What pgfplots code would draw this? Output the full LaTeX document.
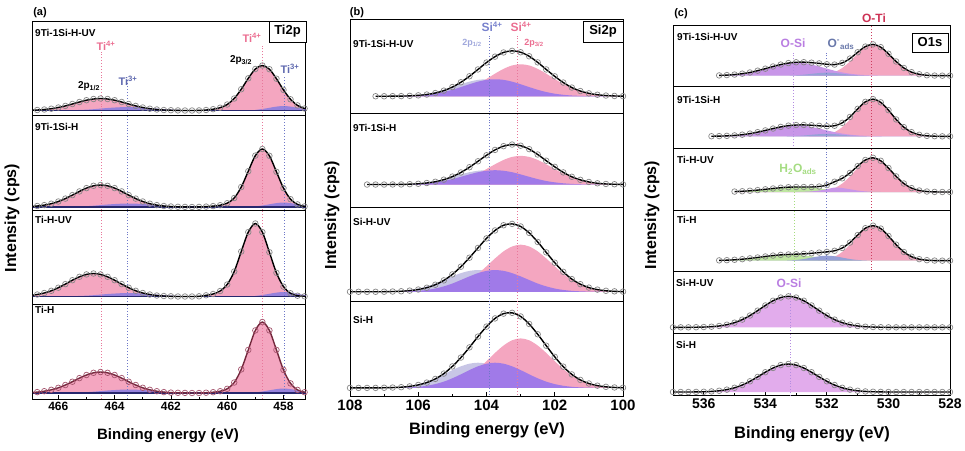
\documentclass[border=0pt]{standalone}
\usepackage{fontspec}
\setmainfont{Liberation Sans}
\usepackage{pgfplots}
\pgfplotsset{compat=1.18}
\usepackage{pgfplotstable}

\definecolor{pinkF}{RGB}{244,166,192}
\definecolor{purF}{RGB}{160,122,232}
\definecolor{lightF}{RGB}{200,198,230}
\definecolor{tiiiF}{RGB}{150,130,220}
\definecolor{navyc}{RGB}{40,40,110}
\definecolor{mk}{RGB}{135,135,135}
\definecolor{mkred}{RGB}{165,85,110}
\definecolor{fitred}{RGB}{115,40,60}
\definecolor{siF}{RGB}{200,150,232}
\definecolor{si2F}{RGB}{226,172,236}
\definecolor{adF}{RGB}{150,160,215}
\definecolor{grF}{RGB}{190,230,160}
\definecolor{vpink}{RGB}{232,120,155}
\definecolor{vblue}{RGB}{110,120,200}
\definecolor{vgreen}{RGB}{165,220,125}
\definecolor{vpur}{RGB}{180,140,225}
\definecolor{vred}{RGB}{205,60,95}
\definecolor{tpink}{RGB}{235,110,145}
\definecolor{tblue}{RGB}{95,105,175}
\definecolor{sblue}{RGB}{120,130,205}
\definecolor{tred}{RGB}{205,50,85}
\definecolor{tpur}{RGB}{185,125,225}
\definecolor{tads}{RGB}{105,120,170}
\definecolor{tgreen}{RGB}{165,220,130}

\newcommand{\F}[1]{\fontsize{#1}{#1}\selectfont\bfseries}
\newcommand{\dat}[2][mk]{\addplot[only marks, mark=o, mark size=2.8pt, color=#1, mark options={line width=0.7pt}] table[x=x,y=env]{#2};}
\newcommand{\fit}[2][black]{\addplot[color=#1, line width=1.4pt, smooth] table[x=x,y=env]{#2};}
\newcommand{\fillc}[3]{\addplot[draw=none, fill=#1, smooth] table[x=x,y=#2]{#3} \closedcycle;}
\newcommand{\vl}[4]{\addplot[color=#1, dotted, line width=0.9pt] coordinates {(#2,#3)(#2,#4)};}

% ---------------- panel (a) Ti2p ----------------
\pgfplotstableread{
x env
467 0.3
466.75 0.5
466.5 1.0
466.25 1.8
466 3.0
465.75 4.6
465.5 6.5
465.25 8.5
465 10.3
464.75 11.5
464.5 12
464.25 11.5
464 10.3
463.75 8.5
463.5 6.5
463.25 4.6
463 3.0
462.75 1.8
462.5 1.0
462.25 0.5
462 0.3
461.75 0.1
461.5 0
461.25 0
461 0.1
460.75 0.5
460.5 1.3
460.25 2.8
460 6.0
459.75 12.0
459.5 21.3
459.25 32.2
459 41.5
458.75 45
458.5 41.3
458.25 31.8
458 20.6
457.75 11.2
457.5 5.1
457.25 2.0
457 0.6
}\aone
\pgfplotstableread{
x env
467 0.5
466.75 1.0
466.5 1.9
466.25 3.3
466 5.5
465.75 8.4
465.5 11.9
465.25 15.6
465 18.9
464.75 21.2
464.5 22
464.25 21.2
464 18.9
463.75 15.6
463.5 11.9
463.25 8.4
463 5.5
462.75 3.3
462.5 1.9
462.25 1.0
462 0.5
461.75 0.2
461.5 0.1
461.25 0
461 0.1
460.75 0.4
460.5 0.9
460.25 1.8
460 3.8
459.75 9.0
459.5 20.0
459.25 35.8
459 51.4
458.75 58
458.5 51.2
458.25 35.2
458 18.9
457.75 7.8
457.5 2.6
457.25 0.6
457 0.1
}\atwo
\pgfplotstableread{
x env
467 1.0
466.75 2.0
466.5 3.5
466.25 5.7
466 8.8
465.75 12.4
465.5 16.3
465.25 19.7
465 22.1
464.75 23
464.5 22.1
464.25 19.7
464 16.3
463.75 12.4
463.5 8.8
463.25 5.7
463 3.5
462.75 2.0
462.5 1.0
462.25 0.5
462 0.2
461.75 0
461.5 0
461.25 0
461 0.2
460.75 1.2
460.5 2.5
460.25 5.5
460 12
459.75 25
459.5 45
459.25 64.4
459 73
458.75 64.4
458.5 44.3
458.25 23.7
458 9.9
457.75 3.2
457.5 0.8
457.25 0.2
457 0
}\athree
\pgfplotstableread{
x env
467 0.4
466.75 0.9
466.5 1.8
466.25 3.2
466 5.2
465.75 8.0
465.5 11.3
465.25 14.9
465 18.0
464.75 20.2
464.5 21
464.25 20.2
464 18.0
463.75 14.9
463.5 11.3
463.25 8.0
463 5.2
462.75 3.2
462.5 1.8
462.25 0.9
462 0.4
461.75 0.2
461.5 0.1
461.25 0
461 0
460.75 0.3
460.5 0.8
460.25 1.8
460 4.2
459.75 10.5
459.5 23.6
459.25 43.1
459 62.6
458.75 71
458.5 62.6
458.25 43.1
458 23.1
457.75 9.6
457.5 3.1
457.25 0.8
457 0.1
}\afour
\pgfplotstableread{
x t
465.75 0
465.5 0.3
465.25 0.55
465 0.85
464.75 1.3
464.5 1.9
464.25 2.5
464 2.95
463.75 3.35
463.5 3.5
463.25 3.35
463 2.95
462.75 2.5
462.5 1.9
462.25 1.3
462 0.85
461.75 0.55
461.5 0.3
461.25 0
459.25 0
459 0.6
458.75 1.5
458.5 2.7
458.25 3.9
458 4.5
457.75 3.9
457.5 2.7
457.25 1.5
457 0.6
}\tiii

% ---------------- panel (b) Si2p ----------------
\pgfplotstableread{
x env pu pk li
107.25 0 0 0 0
107 0 0 0 0.07
106.75 0.1 0.07 0 0.15
106.5 0.15 0.15 0 0.36
106.25 0.4 0.36 0.05 0.75
106 0.9 0.75 0.13 1.45
105.75 1.7 1.45 0.29 2.57
105.5 3.2 2.57 0.67 4.23
105.25 5.6 4.23 1.41 6.48
105 9.2 6.48 2.72 9.18
104.75 14.0 9.18 4.83 12.0
104.5 20.0 12.0 7.97 14.6
104.25 26.8 14.6 12.2 16.4
104 33.7 16.4 17.3 17
103.75 39.6 17 22.6 16.4
103.5 43.8 16.4 27.4 14.6
103.25 45.4 14.6 30.8 12.0
103 44.0 12.0 32 9.18
102.75 40.0 9.18 30.8 6.48
102.5 33.9 6.48 27.4 4.23
102.25 26.8 4.23 22.6 2.57
102 19.9 2.57 17.3 1.45
101.75 13.7 1.45 12.2 0.75
101.5 8.7 0.75 7.97 0.36
101.25 5.2 0.36 4.83 0.15
101 2.9 0.15 2.72 0.07
100.75 1.5 0.07 1.41 0
100.5 0.7 0 0.67 0
100.25 0.3 0 0.29 0
100 0.1 0 0.13 0
}\bone
\pgfplotstableread{
x env pu pk li
107.5 0 0 0 0
107.25 0 0 0 0
107 0 0 0 0.06
106.75 0.1 0.06 0 0.14
106.5 0.1 0.14 0 0.32
106.25 0.4 0.32 0.04 0.66
106 0.8 0.66 0.12 1.3
105.75 1.6 1.3 0.27 2.3
105.5 2.9 2.3 0.63 3.7
105.25 5.1 3.7 1.3 5.7
105 8.3 5.7 2.6 8.1
104.75 12.6 8.1 4.5 10.6
104.5 18.1 10.6 7.5 12.9
104.25 24.3 12.9 11.4 14.4
104 30.6 14.4 16.2 15
103.75 36.2 15 21.2 14.4
103.5 40.1 14.4 25.7 12.9
103.25 41.8 12.9 28.9 10.6
103 40.6 10.6 30 8.1
102.75 37.0 8.1 28.9 5.7
102.5 31.4 5.7 25.7 3.7
102.25 24.9 3.7 21.2 2.3
102 18.5 2.3 16.2 1.3
101.75 12.7 1.3 11.4 0.66
101.5 8.1 0.66 7.5 0.32
101.25 4.9 0.32 4.5 0.14
101 2.7 0.14 2.6 0.06
100.75 1.3 0.06 1.3 0
100.5 0.6 0 0.63 0
100.25 0.3 0 0.27 0
100 0.1 0 0.12 0
}\btwo
\pgfplotstableread{
x env pu pk li
108 0 0 0 0
107.75 0 0 0 0.03
107.5 0 0 0 0.05
107.25 0 0 0 0.1
107 0.1 0.03 0 0.22
106.75 0.3 0.1 0 0.5
106.5 0.6 0.22 0.03 1.06
106.25 1.3 0.5 0.08 2.0
106 2.5 1.06 0.21 3.6
105.75 4.5 2.0 0.47 6.0
105.5 7.8 3.6 1.09 9.1
105.25 12.6 6.0 2.29 13.0
105 19.2 9.1 4.42 17.0
104.75 27.7 13.0 7.85 20.6
104.5 37.6 17.0 12.9 23.1
104.25 48.4 20.6 19.8 24
104 58.9 23.1 28.1 23.1
103.75 67.7 24 36.8 20.6
103.5 73.4 23.1 44.6 17.0
103.25 74.9 20.6 50.0 13.0
103 72.1 17.0 52 9.1
102.75 65.0 13.0 50.0 6.0
102.5 55.0 9.1 44.6 3.6
102.25 43.5 6.0 36.8 2.0
102 32.1 3.6 28.1 1.06
101.75 22.0 2.0 19.8 0.5
101.5 14.0 1.06 12.9 0.22
101.25 8.4 0.5 7.85 0.1
101 4.6 0.22 4.42 0
100.75 2.4 0.1 2.29 0
100.5 1.1 0 1.09 0
100.25 0.5 0 0.47 0
100 0.2 0 0.21 0
}\bthree
\pgfplotstableread{
x env pu pk li
108 0 0 0 0
107.75 0 0 0 0.02
107.5 0 0 0 0.05
107.25 0 0 0 0.11
107 0.15 0.04 0 0.25
106.75 0.4 0.11 0 0.59
106.5 0.8 0.25 0.03 1.23
106.25 1.7 0.59 0.08 2.38
106 3.3 1.23 0.22 4.23
105.75 5.9 2.38 0.5 6.97
105.5 10.0 4.23 1.16 10.7
105.25 15.9 6.97 2.42 15.1
105 23.9 10.7 4.68 19.8
104.75 33.7 15.1 8.3 24.0
104.5 45.0 19.8 13.7 26.9
104.25 57.0 24.0 21.0 28
104 68.1 26.9 29.7 26.9
103.75 77.2 28 38.9 24.0
103.5 82.5 26.9 47.1 19.8
103.25 83.4 24.0 52.9 15.1
103 79.4 19.8 55 10.7
102.75 71.0 15.1 52.9 6.97
102.5 59.6 10.7 47.1 4.23
102.25 46.9 6.97 38.9 2.38
102 34.5 4.23 29.7 1.23
101.75 23.6 2.38 21.0 0.59
101.5 15.0 1.23 13.7 0.25
101.25 8.9 0.59 8.3 0.11
101 4.9 0.25 4.68 0
100.75 2.5 0.11 2.42 0
100.5 1.2 0 1.16 0
100.25 0.5 0 0.5 0
100 0.2 0 0.22 0
}\bfour

% ---------------- panel (c) O1s ----------------
\pgfplotstableread{
x env ti si ad
535.5 0.27 0 0.27 0
535.25 0.57 0 0.57 0
535 1.1 0 1.1 0
534.75 2.0 0 1.96 0
534.5 3.2 0 3.24 0
534.25 5.0 0 4.95 0
534 7.0 0 7.02 0
533.75 9.2 0 9.19 0
533.5 11.1 0 11.1 0.03
533.25 12.6 0 12.5 0.13
533 13.4 0 13 0.41
532.75 13.5 0 12.5 0.98
532.5 13.0 0.12 11.1 1.82
532.25 12.3 0.43 9.19 2.65
532 11.4 1.36 7.02 3
531.75 11.1 3.53 4.95 2.65
531.5 12.8 7.72 3.24 1.82
531.25 17.1 14.2 1.96 0.98
531 23.4 21.9 1.1 0.41
530.75 29.1 28.4 0.57 0.13
530.5 31.3 31 0.27 0.03
530.25 28.5 28.4 0.12 0
530 21.9 21.9 0.05 0
529.75 14.2 14.2 0 0
529.5 7.7 7.72 0 0
529.25 3.5 3.53 0 0
529 1.4 1.36 0 0
528.75 0.4 0.43 0 0
528.5 0.1 0.12 0 0
528.25 0 0 0 0
528 0 0 0 0
}\cone
\pgfplotstableread{
x env ti si ad
535.75 0.1 0 0.1 0
535.5 0.23 0 0.23 0
535.25 0.48 0 0.48 0
535 0.94 0 0.94 0
534.75 1.66 0 1.66 0
534.5 2.74 0 2.74 0
534.25 4.19 0 4.19 0
534 5.94 0 5.94 0
533.75 7.78 0 7.78 0
533.5 9.43 0 9.43 0.03
533.25 10.7 0 10.6 0.11
533 11.3 0 11 0.34
532.75 11.4 0 10.6 0.81
532.5 11.1 0.15 9.43 1.52
532.25 10.5 0.52 7.78 2.2
532 10.1 1.63 5.94 2.5
531.75 10.6 4.22 4.19 2.2
531.5 13.5 9.21 2.74 1.52
531.25 19.4 16.9 1.66 0.81
531 27.5 26.2 0.94 0.34
530.75 34.5 33.9 0.48 0.11
530.5 37.2 37 0.23 0
530.25 34.0 33.9 0.1 0
530 26.2 26.2 0 0
529.75 16.9 16.9 0 0
529.5 9.2 9.21 0 0
529.25 4.2 4.22 0 0
529 1.6 1.63 0 0
528.75 0.5 0.52 0 0
528.5 0.15 0.15 0 0
528.25 0 0 0 0
528 0 0 0 0
}\ctwo
\pgfplotstableread{
x env ti gr ad
535 0.43 0 0.43 0
534.75 0.76 0 0.76 0
534.5 1.25 0 1.25 0
534.25 1.9 0 1.9 0
534 2.7 0 2.7 0
533.75 3.54 0 3.54 0
533.5 4.29 0 4.29 0
533.25 4.81 0 4.81 0
533 5.0 0 5 0
532.75 5.0 0 4.81 0.2
532.5 5.0 0.14 4.29 0.61
532.25 5.5 0.48 3.54 1.46
532 6.9 1.5 2.7 2.73
531.75 10.3 3.88 1.9 4.5
531.5 13.7 8.47 1.25 3.97
531.25 19.1 15.6 0.76 2.73
531 25.9 24.0 0.43 1.46
530.75 32.0 31.2 0.22 0.61
530.5 34.2 34 0.1 0.2
530.25 31.2 31.2 0 0
530 24.0 24.0 0 0
529.75 15.6 15.6 0 0
529.5 8.5 8.47 0 0
529.25 3.9 3.88 0 0
529 1.5 1.5 0 0
528.75 0.5 0.48 0 0
528.5 0.1 0.14 0 0
528.25 0 0 0 0
528 0 0 0 0
}\cthree
\pgfplotstableread{
x env ti gr ad
535.5 0.3 0 0.26 0
535.25 0.5 0 0.51 0
535 0.9 0 0.91 0
534.75 1.5 0 1.49 0
534.5 2.3 0 2.29 0
534.25 3.2 0 3.24 0
534 4.2 0 4.24 0
533.75 5.1 0 5.14 0
533.5 5.8 0 5.77 0
533.25 6.2 0 6 0.22
533 6.5 0 5.77 0.68
532.75 6.8 0 5.14 1.63
532.5 7.4 0.14 4.24 3.04
532.25 8.1 0.49 3.24 4.41
532 8.8 1.54 2.29 5
531.75 9.9 3.99 1.49 4.41
531.5 12.7 8.72 0.91 3.04
531.25 18.1 16.0 0.51 1.63
531 25.6 24.7 0.26 0.68
530.75 32.5 32.1 0.13 0.22
530.5 35 35 0 0
530.25 32.1 32.1 0 0
530 24.7 24.7 0 0
529.75 16.0 16.0 0 0
529.5 8.7 8.72 0 0
529.25 4.0 3.99 0 0
529 1.5 1.54 0 0
528.75 0.5 0.49 0 0
528.5 0.1 0.14 0 0
528.25 0 0 0 0
528 0 0 0 0
}\cfour
\pgfplotstableread{
x env
537 0
536.75 0
536.5 0
536.25 0.12
536 0.29
535.75 0.65
535.5 1.36
535.25 2.64
535 4.68
534.75 7.72
534.5 11.8
534.25 16.7
534 21.9
533.75 26.6
533.5 29.8
533.25 31
533 29.8
532.75 26.6
532.5 21.9
532.25 16.7
532 11.8
531.75 7.72
531.5 4.68
531.25 2.64
531 1.36
530.75 0.65
530.5 0.29
530.25 0.12
530 0
529.75 0
529.5 0
529.25 0
529 0
528.75 0
528.5 0
528.25 0
528 0
}\cfive
\pgfplotstableread{
x env
537 0
536.75 0
536.5 0
536.25 0.11
536 0.25
535.75 0.59
535.5 1.23
535.25 2.38
535 4.23
534.75 6.97
534.5 10.7
534.25 15.1
534 19.8
533.75 24.0
533.5 26.9
533.25 28
533 26.9
532.75 24.0
532.5 19.8
532.25 15.1
532 10.7
531.75 6.97
531.5 4.23
531.25 2.38
531 1.23
530.75 0.59
530.5 0.25
530.25 0.11
530 0
529.75 0
529.5 0
529.25 0
529 0
528.75 0
528.5 0
528.25 0
528 0
}\csix

\pgfplotsset{
  sp/.style={scale only axis, x dir=reverse, anchor=north west, xtick=\empty, ytick=\empty,
    axis line style={line width=1pt}, clip=true},
  pa/.style={sp, width=273pt, height=94.5pt, xmin=457.2, xmax=466.9},
  pb/.style={sp, width=273pt, height=94.25pt, xmin=100, xmax=108},
  pc/.style={sp, width=277pt, height=61.667pt, xmin=528, xmax=537},
  bot/.style={xtick pos=left, tick align=inside, major tick length=4pt, minor tick length=2.5pt,
    minor x tick num=1, every tick/.append style={black, line width=0.8pt},
    /pgf/number format/assume math mode=true, /pgf/number format/1000 sep={}},
}

\begin{document}
\begin{tikzpicture}
\useasboundingbox (0pt,0pt) rectangle (965pt,-450pt);

% ===== (a) =====
\begin{axis}[pa, at={(33pt,-21pt)}, ymin=-5, ymax=89.5]
\fillc{pinkF}{env}{\aone}
\fillc{tiiiF}{t}{\tiii}
\vl{vpink}{464.45}{-20}{58.5}
\vl{vblue}{463.55}{-20}{30.5}
\vl{vpink}{458.75}{-20}{66.5}
\vl{vblue}{457.95}{-20}{34.5}
\addplot[navyc, line width=1.2pt] coordinates {(467.5,0)(456.5,0)};
\dat{\aone}
\fit{\aone}
\end{axis}
\begin{axis}[pa, at={(33pt,-115.5pt)}, ymin=-3, ymax=91.5]
\fillc{pinkF}{env}{\atwo}
\fillc{tiiiF}{t}{\tiii}
\vl{vpink}{464.45}{-20}{200}
\vl{vblue}{463.55}{-20}{200}
\vl{vpink}{458.75}{-20}{200}
\vl{vblue}{457.95}{-20}{200}
\addplot[navyc, line width=1.2pt] coordinates {(467.5,0)(456.5,0)};
\dat{\atwo}
\fit{\atwo}
\end{axis}
\begin{axis}[pa, at={(33pt,-210pt)}, ymin=-8, ymax=86.5]
\fillc{pinkF}{env}{\athree}
\fillc{tiiiF}{t}{\tiii}
\vl{vpink}{464.45}{-20}{200}
\vl{vblue}{463.55}{-20}{200}
\vl{vpink}{458.75}{-20}{200}
\vl{vblue}{457.95}{-20}{200}
\addplot[navyc, line width=1.2pt] coordinates {(467.5,0)(456.5,0)};
\dat{\athree}
\fit{\athree}
\end{axis}
\begin{axis}[pa, bot, at={(33pt,-304.5pt)}, ymin=-6, ymax=88.5,
  xtick={458,460,462,464,466}, xticklabel style={font=\F{12}}]
\fillc{pinkF}{env}{\afour}
\fillc{tiiiF}{t}{\tiii}
\vl{vpink}{464.45}{-20}{200}
\vl{vblue}{463.55}{-20}{200}
\vl{vpink}{458.75}{-20}{200}
\vl{vblue}{457.95}{-20}{200}
\addplot[navyc, line width=1.2pt] coordinates {(467.5,0)(456.5,0)};
\dat[mkred]{\afour}
\fit[fitred]{\afour}
\end{axis}

% ===== (b) =====
\begin{axis}[pb, at={(350pt,-19pt)}, ymin=-17, ymax=77.25]
\fillc{lightF}{li}{\bone}
\fillc{pinkF}{pk}{\bone}
\fillc{purF}{pu}{\bone}
\vl{vblue}{103.9}{-30}{60}
\vl{vpink}{103.1}{-30}{60}
\dat{\bone}
\fit{\bone}
\end{axis}
\begin{axis}[pb, at={(350pt,-113.25pt)}, ymin=-24, ymax=74.5]
\fillc{lightF}{li}{\btwo}
\fillc{pinkF}{pk}{\btwo}
\fillc{purF}{pu}{\btwo}
\vl{vblue}{103.9}{-30}{200}
\vl{vpink}{103.1}{-30}{200}
\dat{\btwo}
\fit{\btwo}
\end{axis}
\begin{axis}[pb, at={(350pt,-207.5pt)}, ymin=-11, ymax=93]
\fillc{lightF}{li}{\bthree}
\fillc{pinkF}{pk}{\bthree}
\fillc{purF}{pu}{\bthree}
\vl{vblue}{103.9}{-30}{200}
\vl{vpink}{103.1}{-30}{200}
\dat{\bthree}
\fit{\bthree}
\end{axis}
\begin{axis}[pb, bot, at={(350pt,-301.75pt)}, ymin=-9, ymax=95.7,
  xtick={100,102,104,106,108}, xticklabel style={font=\F{15}}]
\fillc{lightF}{li}{\bfour}
\fillc{pinkF}{pk}{\bfour}
\fillc{purF}{pu}{\bfour}
\vl{vblue}{103.9}{-30}{200}
\vl{vpink}{103.1}{-30}{200}
\dat{\bfour}
\fit{\bfour}
\end{axis}

% ===== (c) =====
\begin{axis}[pc, at={(673pt,-25pt)}, ymin=-11, ymax=50.67]
\fillc{pinkF}{ti}{\cone}
\fillc{siF}{si}{\cone}
\fillc{adF}{ad}{\cone}
\vl{vred}{530.55}{-30}{200}
\vl{vpur}{533.1}{-30}{23.7}
\vl{vblue}{532.0}{-30}{23.7}
\dat{\cone}
\fit{\cone}
\end{axis}
\begin{axis}[pc, at={(673pt,-86.667pt)}, ymin=-12, ymax=49.67]
\fillc{pinkF}{ti}{\ctwo}
\fillc{siF}{si}{\ctwo}
\fillc{adF}{ad}{\ctwo}
\vl{vred}{530.55}{-30}{200}
\vl{vpur}{533.1}{-30}{200}
\vl{vblue}{532.0}{-30}{200}
\dat{\ctwo}
\fit{\ctwo}
\end{axis}
\begin{axis}[pc, at={(673pt,-148.333pt)}, ymin=-18, ymax=43.67]
\fillc{pinkF}{ti}{\cthree}
\fillc{grF}{gr}{\cthree}
\fillc{siF}{ad}{\cthree}
\vl{vred}{530.55}{-30}{200}
\vl{vgreen}{533.05}{-30}{7}
\vl{vblue}{532.0}{-30}{200}
\dat{\cthree}
\fit{\cthree}
\end{axis}
\begin{axis}[pc, at={(673pt,-210pt)}, ymin=-11, ymax=50.67]
\fillc{pinkF}{ti}{\cfour}
\fillc{grF}{gr}{\cfour}
\fillc{adF}{ad}{\cfour}
\vl{vred}{530.55}{-30}{200}
\vl{vgreen}{533.05}{-30}{200}
\vl{vblue}{532.0}{-30}{200}
\dat{\cfour}
\fit{\cfour}
\end{axis}
\begin{axis}[pc, at={(673pt,-271.667pt)}, ymin=-6, ymax=55.67]
\fillc{si2F}{env}{\cfive}
\vl{vpur}{533.2}{-30}{35.3}
\dat{\cfive}
\fit{\cfive}
\end{axis}
\begin{axis}[pc, bot, at={(673pt,-333.333pt)}, ymin=-3, ymax=58.67,
  xtick={528,530,532,534,536}, xticklabel style={font=\F{14}}]
\fillc{si2F}{env}{\csix}
\vl{vpur}{533.2}{-30}{200}
\dat{\csix}
\fit{\csix}
\end{axis}

% ===== texts =====
\node[font=\F{11}] at (40pt,-13pt) {(a)};
\node[font=\F{11}] at (357pt,-13pt) {(b)};
\node[font=\F{11}] at (681pt,-14pt) {(c)};

\node[rotate=90,font=\F{16}] at (12pt,-218pt) {Intensity (cps)};
\node[rotate=90,font=\F{16}] at (332pt,-215pt) {Intensity (cps)};
\node[rotate=90,font=\F{16}] at (652pt,-215pt) {Intensity (cps)};

\node[font=\F{15}] at (168pt,-436pt) {Binding energy (eV)};
\node[font=\F{16.5}] at (487pt,-430pt) {Binding energy (eV)};
\node[font=\F{16.5}] at (812pt,-434pt) {Binding energy (eV)};

\begin{scope}[every node/.style={anchor=west, inner sep=0pt, font=\F{10}}]
\node at (35pt,-33pt) {9Ti-1Si-H-UV};
\node at (35pt,-127pt) {9Ti-1Si-H};
\node at (35pt,-220pt) {Ti-H-UV};
\node at (35pt,-310pt) {Ti-H};
\node at (353pt,-44pt) {9Ti-1Si-H-UV};
\node at (353pt,-128pt) {9Ti-1Si-H};
\node at (353pt,-222pt) {Si-H-UV};
\node at (353pt,-320pt) {Si-H};
\node at (677pt,-37pt) {9Ti-1Si-H-UV};
\node at (677pt,-100pt) {9Ti-1Si-H};
\node at (677pt,-160pt) {Ti-H-UV};
\node at (677pt,-220pt) {Ti-H};
\node at (676pt,-283pt) {Si-H-UV};
\node at (676pt,-345pt) {Si-H};
\end{scope}

% (a) annotations
\node[text=tpink, font=\F{11}] at (106pt,-46pt) {Ti\textsuperscript{4+}};
\node[text=tpink, font=\F{11}] at (252pt,-38pt) {Ti\textsuperscript{4+}};
\node[text=tblue, font=\F{11}] at (128pt,-81pt) {Ti\textsuperscript{3+}};
\node[text=tblue, font=\F{11}] at (290pt,-69pt) {Ti\textsuperscript{3+}};
\node[font=\F{10}] at (89pt,-86pt) {2p\textsubscript{1/2}};
\node[font=\F{10}] at (241pt,-60pt) {2p\textsubscript{3/2}};
\node[draw, line width=0.8pt, fill=white, minimum width=37pt, minimum height=21pt, inner sep=0pt, font=\F{13}] at (287.5pt,-31.5pt) {Ti2p};

% (b) annotations
\node[text=sblue, font=\F{12}] at (492pt,-27pt) {Si\textsuperscript{4+}};
\node[text=tpink, font=\F{12}] at (521pt,-27pt) {Si\textsuperscript{4+}};
\node[text=sblue!70, font=\F{9}] at (472pt,-43pt) {2p\textsubscript{1/2}};
\node[text=tpink, font=\F{9}] at (534pt,-43pt) {2p\textsubscript{3/2}};
\node[draw, line width=0.8pt, fill=white, minimum width=40pt, minimum height=21pt, inner sep=0pt, font=\F{13}] at (603pt,-31.5pt) {Si2p};

% (c) annotations
\node[text=tred, font=\F{12}] at (874pt,-18pt) {O-Ti};
\node[text=tpur, font=\F{12}] at (793pt,-43pt) {O-Si};
\node[text=tads, font=\F{12}, inner sep=1pt] at (841pt,-44pt) {O\textsuperscript{-}\textsubscript{ads}};
\node[text=tgreen, font=\F{12}] at (798pt,-169pt) {H\textsubscript{2}O\textsubscript{ads}};
\node[text=tpur, font=\F{12}] at (789pt,-283pt) {O-Si};
\node[draw, line width=0.8pt, fill=white, minimum width=36pt, minimum height=19pt, inner sep=0pt, font=\F{13}] at (930pt,-42.5pt) {O1s};
\end{tikzpicture}
\end{document}
